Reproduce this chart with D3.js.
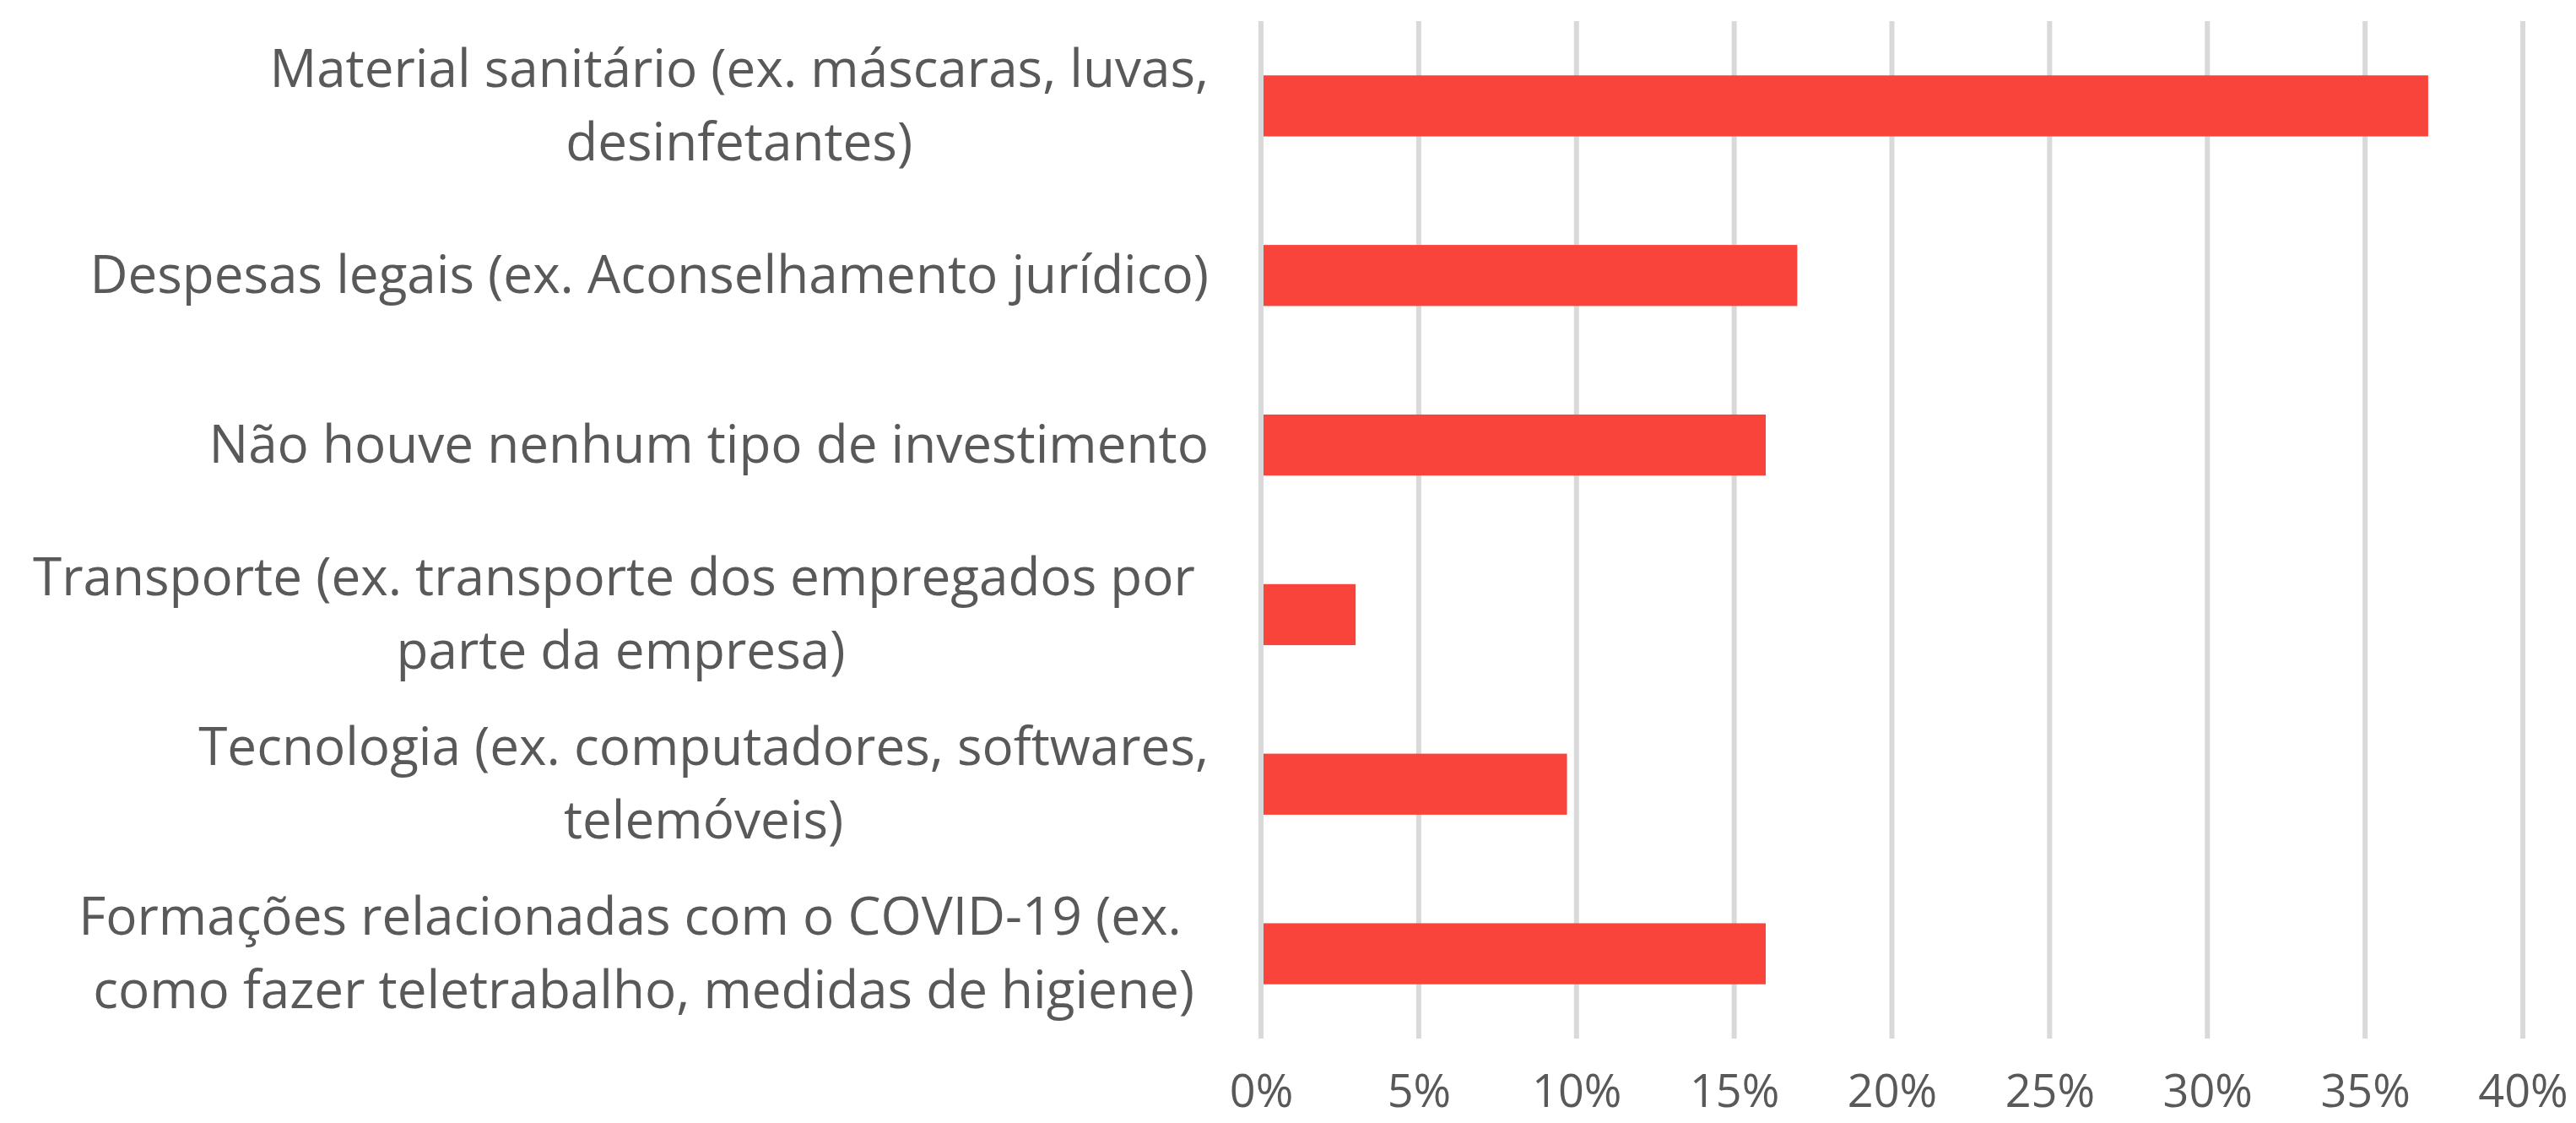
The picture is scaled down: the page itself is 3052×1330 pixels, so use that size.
<!DOCTYPE html>
<html>
<head>
<meta charset="utf-8">
<script src="https://cdn.jsdelivr.net/npm/d3@7"></script>
<style>
  html, body { margin: 0; padding: 0; background: #fff; }
  svg { display: block; font-family: "Open Sans", sans-serif; }
  tspan { white-space: pre; }
</style>
</head>
<body>
<svg id="chart" width="3052" height="1330"></svg>
<script>
// --- DATA ---
const categories = [
  "Material sanitário (ex. máscaras, luvas, desinfetantes)",
  "Despesas legais (ex. Aconselhamento jurídico)",
  "Não houve nenhum tipo de investimento",
  "Transporte (ex. transporte dos empregados por parte da empresa)",
  "Tecnologia (ex. computadores, softwares, telemóveis)",
  "Formações relacionadas com o COVID-19 (ex. como fazer teletrabalho, medidas de higiene)"
];
// wrapped lines as in the chart (trailing spaces kept where the wrap left them)
const labelLines = [
  ["Material sanitário (ex. máscaras, luvas,", "desinfetantes)"],
  ["Despesas legais (ex. Aconselhamento jurídico)"],
  ["Não houve nenhum tipo de investimento"],
  ["Transporte (ex. transporte dos empregados por ", "parte da empresa)"],
  ["Tecnologia (ex. computadores, softwares,", "telemóveis)"],
  ["Formações relacionadas com o COVID-19 (ex.  ", "como fazer teletrabalho, medidas de higiene)"]
];
const values = [0.37, 0.17, 0.16, 0.03, 0.097, 0.16];
const xTicks = [0, 0.05, 0.10, 0.15, 0.20, 0.25, 0.30, 0.35, 0.40];

const data = categories.map((c, i) => ({ cat: c, lines: labelLines[i], value: values[i] }));

const svg = d3.select("#chart");
const plotLeft = 1494, plotRight = 2989, plotTop = 25, plotBottom = 1230;

const x = d3.scaleLinear().domain([0, 0.40]).range([plotLeft, plotRight]);
const y = d3.scaleBand().domain(categories).range([plotTop, plotBottom])
  .paddingInner(0.64).paddingOuter(0.32);

// --- GRIDLINES ---
svg.append("g")
  .selectAll("line")
  .data(xTicks)
  .enter()
  .append("line")
  .attr("x1", d => x(d)).attr("x2", d => x(d))
  .attr("y1", plotTop).attr("y2", plotBottom)
  .attr("stroke", "#d9d9d9")
  .attr("stroke-width", 6);

// --- BARS ---
svg.append("g")
  .selectAll("rect")
  .data(data)
  .enter()
  .append("rect")
  .attr("x", x(0) + 3)
  .attr("y", d => y(d.cat))
  .attr("width", d => x(d.value) - x(0) - 3)
  .attr("height", y.bandwidth())
  .attr("fill", "#f9443c");

// --- X AXIS LABELS ---
const xAxis = svg.append("g")
  .attr("transform", `translate(0,${plotBottom})`)
  .call(d3.axisBottom(x).tickValues(xTicks).tickFormat(d3.format(".0%")).tickSize(0).tickPadding(0));
xAxis.select(".domain").remove();
xAxis.selectAll("text")
  .attr("dy", null)
  .attr("y", 81)
  .attr("fill", "#595959")
  .style("font-size", "54px")
  .style("font-family", "'Open Sans', sans-serif");

// --- Y AXIS LABELS (wrapped, lines centred in a right-aligned block) ---
const yAxis = svg.append("g")
  .attr("transform", `translate(${plotLeft},0)`)
  .call(d3.axisLeft(y).tickSize(0).tickPadding(0));
yAxis.select(".domain").remove();

const lineH = 87;
yAxis.selectAll(".tick text").each(function(cat) {
  const lines = labelLines[categories.indexOf(cat)];
  const t = d3.select(this)
    .text(null)
    .attr("dy", null)
    .attr("text-anchor", "middle")
    .attr("fill", "#595959")
    .style("font-size", "62px")
    .style("font-family", "'Open Sans', sans-serif");
  const spans = lines.map((ln, i) => t.append("tspan")
    .attr("y", (i - (lines.length - 1) / 2) * lineH + 21)
    .text(ln));
  const maxW = d3.max(spans, s => s.node().getComputedTextLength());
  spans.forEach(s => s.attr("x", -62 - maxW / 2));
});
</script>
</body>
</html>
